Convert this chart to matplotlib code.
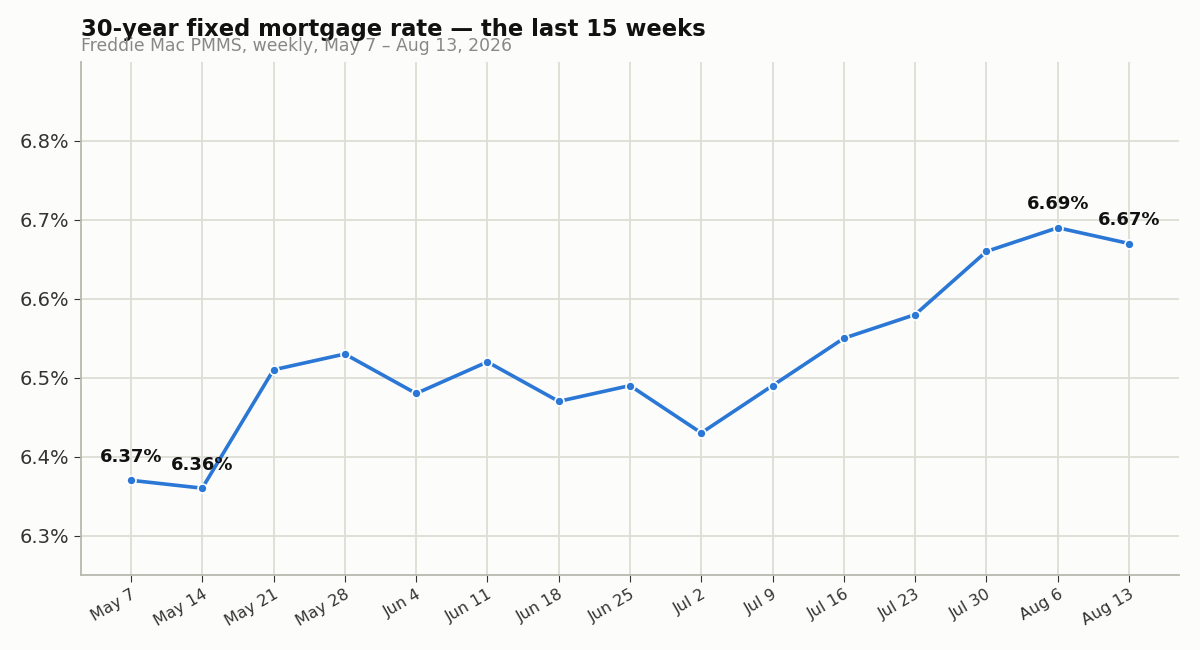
import matplotlib.pyplot as plt
from matplotlib.ticker import FuncFormatter

weeks = ["May 7", "May 14", "May 21", "May 28", "Jun 4", "Jun 11", "Jun 18", "Jun 25",
         "Jul 2", "Jul 9", "Jul 16", "Jul 23", "Jul 30", "Aug 6", "Aug 13"]
rates = [6.37, 6.36, 6.51, 6.53, 6.48, 6.52, 6.47, 6.49,
         6.43, 6.49, 6.55, 6.58, 6.66, 6.69, 6.67]
labelled = [0, 1, 13, 14]

bg = "#fcfcfa"
fig = plt.figure(figsize=(12, 6.5), dpi=100, facecolor=bg)
ax = fig.add_axes([0.0675, 0.1154, 0.915, 0.7892], facecolor=bg)

x = list(range(len(weeks)))
ax.plot(x, rates, color="#2a77d6", lw=2.6, marker="o", ms=6.5,
        markeredgecolor="white", markeredgewidth=1.2, zorder=3)

for i in labelled:
    ax.annotate(f"{rates[i]:.2f}%", (x[i], rates[i]), xytext=(0, 17),
                textcoords="offset points", ha="center", va="center",
                fontsize=13, fontweight="bold", color="#111111")

ax.set_xlim(-0.7, 14.7)
ax.set_ylim(6.25, 6.9)
ax.set_yticks([6.3, 6.4, 6.5, 6.6, 6.7, 6.8])
ax.yaxis.set_major_formatter(FuncFormatter(lambda v, p: f"{v:.1f}%"))
ax.set_xticks(x)
ax.set_xticklabels(weeks, rotation=30, ha="right", rotation_mode="anchor")

ax.grid(True, color="#deddd6", lw=1.3)
ax.set_axisbelow(True)
for s in ["top", "right"]:
    ax.spines[s].set_visible(False)
for s in ["left", "bottom"]:
    ax.spines[s].set_color("#b8b8b0")
    ax.spines[s].set_linewidth(1.3)
ax.tick_params(axis="y", labelsize=14, colors="#333333", length=5)
ax.tick_params(axis="x", labelsize=11.5, colors="#333333", length=5)
for lbl in ax.get_xticklabels() + ax.get_yticklabels():
    lbl.set_color("#333333")

fig.text(0.0675, 0.955, "30-year fixed mortgage rate \u2014 the last 15 weeks",
         fontsize=16.3, fontweight="bold", ha="left", va="center", color="#111111")
fig.text(0.0675, 0.929, "Freddie Mac PMMS, weekly, May 7 \u2013 Aug 13, 2026",
         fontsize=12.4, ha="left", va="center", color="#888888")

fig.savefig("out.png", dpi=100, facecolor=bg)
